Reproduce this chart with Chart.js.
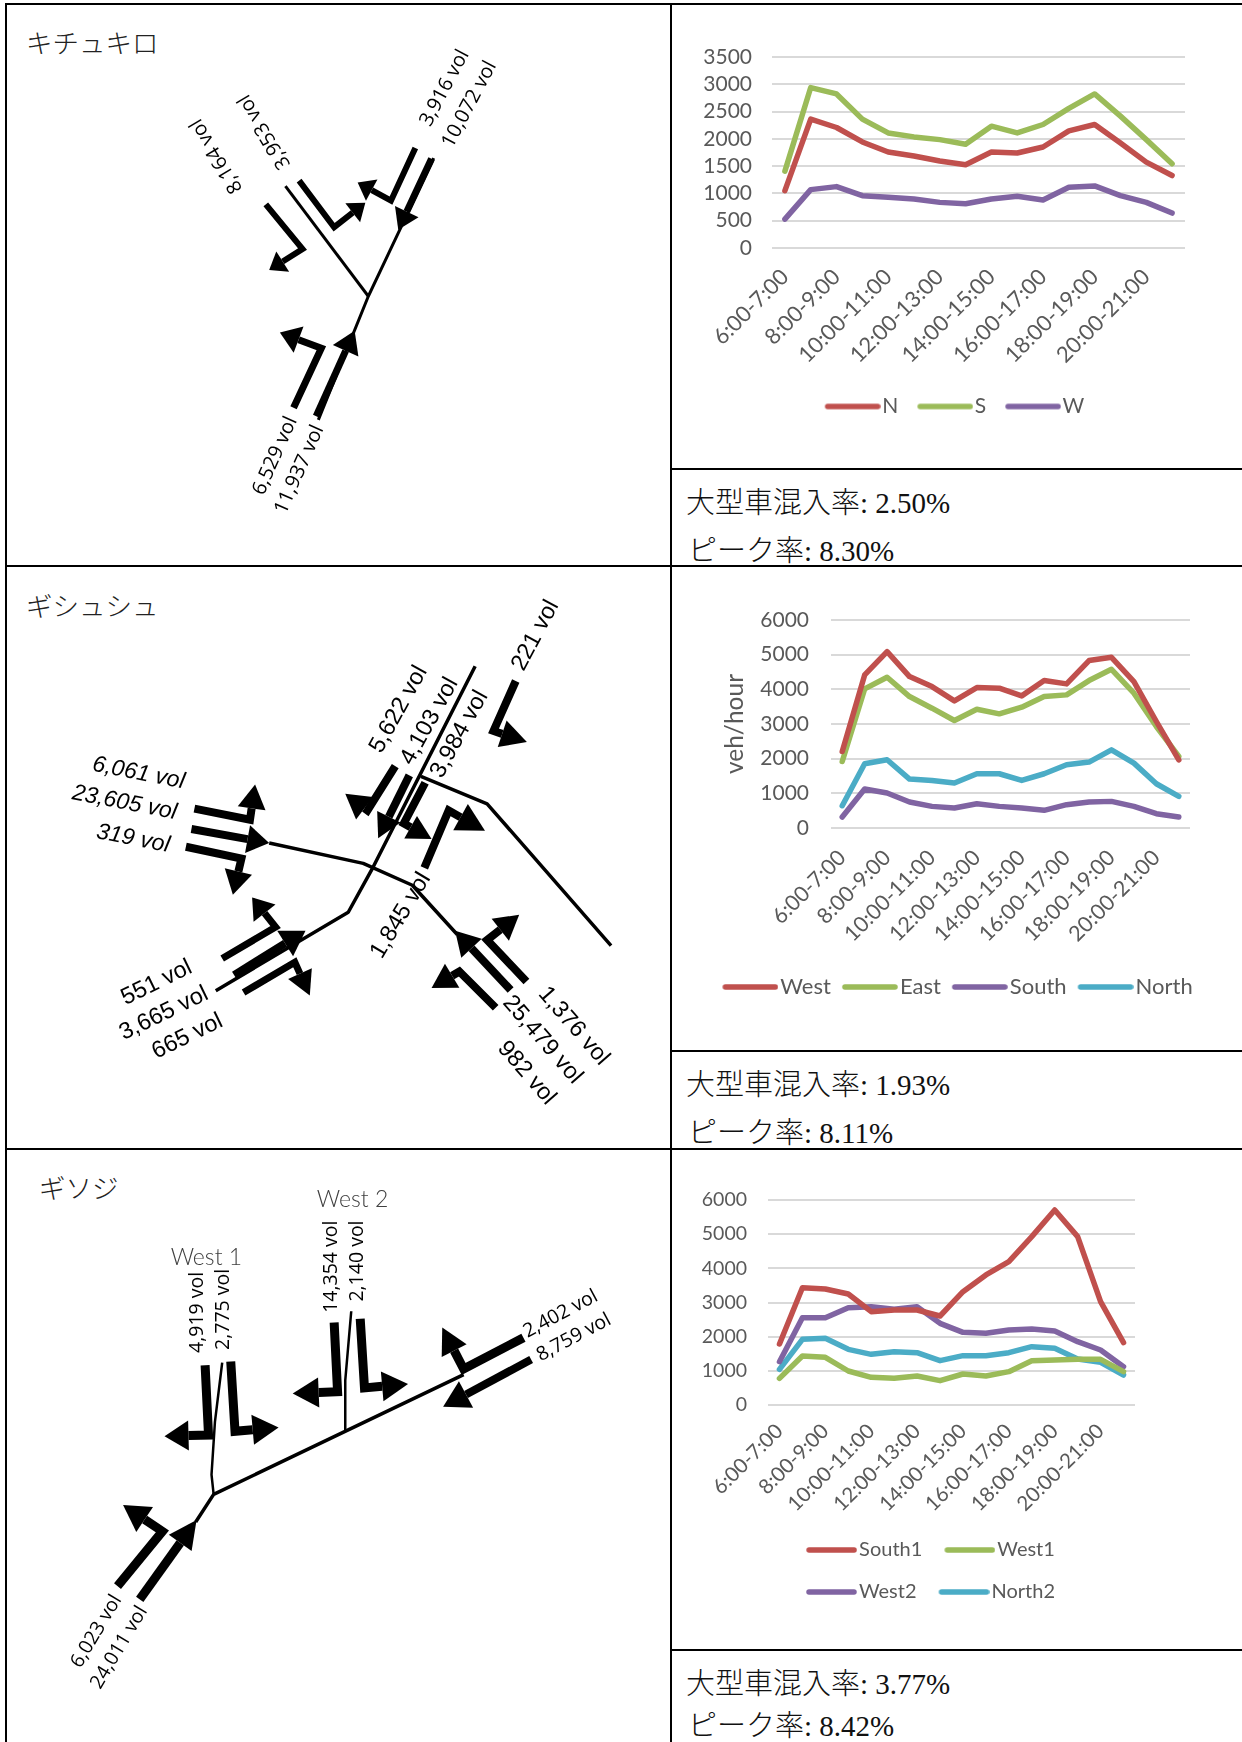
<!DOCTYPE html>
<html lang="ja">
<head>
<meta charset="utf-8">
<title>交差点交通量</title>
<script src="https://cdn.jsdelivr.net/npm/chart.js@4"></script>
<style>
  html, body { margin: 0; padding: 0; background: #fff; overflow: hidden; }
  #sheet { position: relative; width: 1242px; height: 1742px; overflow: hidden; }
  .rule { position: absolute; background: #000; }
  .chartBox { position: absolute; }
  .stat { position: absolute; left: 686px; font: 300 29px "Liberation Serif", "Noto Sans CJK JP", serif; color: #111; white-space: nowrap; line-height: 32px; }
  .title { position: absolute; font: 300 26.5px "Noto Sans CJK JP", sans-serif; color: #222; white-space: nowrap; line-height: 30px; }
  svg { position: absolute; left: 0; top: 0; }
</style>
</head>
<body>
<div id="sheet"></div>
<script>
// Hourly windows shared by all three count charts
const hourLabels = ["6:00-7:00","7:00-8:00","8:00-9:00","9:00-10:00","10:00-11:00","11:00-12:00","12:00-13:00","13:00-14:00","14:00-15:00","15:00-16:00","16:00-17:00","17:00-18:00","18:00-19:00","19:00-20:00","20:00-21:00","21:00-22:00"];

// キチュキロ
const kN = [1052,2362,2208,1943,1759,1685,1593,1525,1759,1740,1851,2146,2263,1925,1574,1328];
const kS = [1408,2940,2823,2362,2109,2036,1986,1900,2232,2109,2263,2558,2823,2417,1986,1544];
const kW = [529,1070,1125,959,929,898,836,812,898,947,879,1113,1138,959,836,640];

// ギシュシュ
const gWest = [2208,4416,5088,4368,4080,3667,4051,4032,3811,4253,4157,4829,4925,4224,3072,1968];
const gEast = [1920,4013,4349,3792,3456,3101,3427,3293,3485,3792,3840,4253,4579,3888,2928,2064];
const gSouth = [317,1123,1008,749,624,576,701,624,576,509,672,749,768,624,413,317];
const gNorth = [643,1853,1968,1411,1373,1296,1565,1565,1373,1565,1824,1901,2256,1872,1277,912];

// ギソジ
const sSouth1 = [1785,3434,3395,3249,2732,2780,2780,2605,3317,3805,4195,4927,5707,4927,3024,1824];
const sWest1 = [780,1434,1395,995,810,780,849,712,907,849,976,1298,1317,1337,1337,976];
const sWest2 = [1268,2556,2556,2849,2878,2800,2878,2390,2127,2098,2195,2224,2166,1854,1610,1122];
const sNorth2 = [1044,1922,1951,1629,1483,1561,1532,1298,1444,1444,1532,1707,1659,1346,1249,878];

// Truck share and peak rate shown under each chart
const truckShare = ["2.50%","1.93%","3.77%"];
const peakRate = ["8.30%","8.11%","8.42%"];
const siteNames = ["キチュキロ","ギシュシュ","ギソジ"];

const RED = "#c0504d", GREEN = "#9bbb59", PURPLE = "#8064a2", TEAL = "#4bacc6";
const sheet = document.getElementById("sheet");

function rule(l, t, w, h) {
  const d = document.createElement("div");
  d.className = "rule";
  d.style.cssText = `left:${l}px;top:${t}px;width:${w}px;height:${h}px`;
  sheet.appendChild(d);
}
// Table frame
rule(5, 3, 1237, 2);
rule(5, 3, 2, 1739);
rule(670, 3, 2, 1739);
rule(5, 565, 1237, 2);
rule(5, 1148, 1237, 2);
rule(670, 468, 572, 2);
rule(670, 1050, 572, 2);
rule(670, 1649, 572, 2);

function place(cls, text, l, t) {
  const d = document.createElement("div");
  d.className = cls;
  d.textContent = text;
  d.style.left = l + "px";
  d.style.top = t + "px";
  sheet.appendChild(d);
}
place("title", siteNames[0], 26, 27);
place("title", siteNames[1], 26, 590);
place("title", siteNames[2], 39, 1172);

[[487, 535], [1069, 1117], [1668, 1710]].forEach((ys, i) => {
  place("stat", "大型車混入率: " + truckShare[i], 686, ys[0]);
  place("stat", "ピーク率: " + peakRate[i], 688, ys[1]);
});

// Nudges a legend sideways from its default spot below the plot
const legendShift = {
  id: "legendShift",
  afterLayout(chart, args, opts) {
    if (opts.dx) { chart.legend.left += opts.dx; chart.legend.right += opts.dx; }
  }
};

// Legend key: a thick rounded line that reaches almost to its label
function keyImage(color, boxWidth, reach) {
  const c = document.createElement("canvas");
  c.width = boxWidth + 2 * reach;
  c.height = 8;
  const g = c.getContext("2d");
  g.strokeStyle = color;
  g.lineWidth = 5.5;
  g.lineCap = "round";
  g.beginPath();
  g.moveTo(reach + 3, 4);
  g.lineTo(c.width - 3, 4);
  g.stroke();
  return c;
}

function makeChart(cfg) {
  const box = document.createElement("div");
  box.className = "chartBox";
  box.style.cssText = `left:${cfg.left}px;top:${cfg.top}px;width:${cfg.width}px;height:${cfg.height}px`;
  const canvas = document.createElement("canvas");
  canvas.width = cfg.width;
  canvas.height = cfg.height;
  box.appendChild(canvas);
  sheet.appendChild(box);
  const plotBottomInBox = cfg.plotBottom - cfg.top;
  new Chart(canvas, {
    type: "line",
    plugins: [legendShift],
    data: {
      labels: hourLabels,
      datasets: cfg.series.map(s => ({
        label: s.name, data: s.values, borderColor: s.color, backgroundColor: s.color,
        borderWidth: 5.5, tension: 0, pointRadius: 0, fill: false,
        pointStyle: keyImage(s.color, cfg.swatch, cfg.reach),
        borderCapStyle: "round", borderJoinStyle: "round"
      }))
    },
    options: {
      responsive: false,
      animation: false,
      layout: { padding: { left: 0, top: cfg.plotTop - cfg.top, right: cfg.left + cfg.width - cfg.plotRight, bottom: 0 } },
      plugins: {
        tooltip: { enabled: false },
        legendShift: { dx: cfg.legendDx || 0 },
        legend: {
          position: "bottom",
          fullSize: cfg.legendFull !== false,
          labels: {
            usePointStyle: true, pointStyleWidth: cfg.swatch,
            font: { family: "Lato", size: cfg.legendFont },
            color: "#595959", padding: cfg.legendPad
          }
        }
      },
      scales: {
        x: {
          offset: true,
          grid: { display: false },
          border: { display: false },
          afterFit: s => { s.height = cfg.height - cfg.legendHeight - plotBottomInBox; },
          ticks: {
            autoSkip: false, maxRotation: 45, minRotation: 45, padding: cfg.xPad,
            color: "#595959", font: { family: "Lato", size: cfg.xFont },
            callback(v, i) { return i % 2 === 0 ? this.getLabelForValue(v) : ""; }
          }
        },
        y: {
          min: 0, max: cfg.max,
          afterFit: s => { s.width = cfg.plotLeft - cfg.left; },
          grid: { color: "#d9d9d9", lineWidth: 2, drawTicks: false },
          border: { display: false },
          title: cfg.yTitle ? { display: true, text: cfg.yTitle, color: "#595959", font: { family: "Lato", size: 24.5 }, padding: { top: cfg.yTitlePad, bottom: 0 } } : { display: false },
          ticks: { stepSize: cfg.step, autoSkip: false, callback: v => String(v), padding: cfg.yPad, color: "#595959", font: { family: "Lato", size: cfg.yFont } }
        }
      }
    }
  });
}

makeChart({
  left: 672, top: 5, width: 566, height: 422,
  plotLeft: 772, plotRight: 1185, plotTop: 57, plotBottom: 248,
  legendHeight: 50, legendPad: 19, legendFont: 21, swatch: 47, reach: 9, legendDx: 26,
  xFont: 22, yFont: 21, xPad: 8, yPad: 20, max: 3500, step: 500,
  series: [{ name: "N", values: kN, color: RED }, { name: "S", values: kS, color: GREEN }, { name: "W", values: kW, color: PURPLE }]
});
makeChart({
  left: 675, top: 570, width: 566, height: 438,
  plotLeft: 831, plotRight: 1190, plotTop: 620, plotBottom: 828,
  legendHeight: 43, legendPad: 11, legendFont: 22, swatch: 47, reach: 9, legendDx: 25,
  xFont: 21.5, yFont: 21, xPad: 9, yPad: 22, max: 6000, step: 1000,
  yTitle: "veh/hour", yTitlePad: 45,
  series: [{ name: "West", values: gWest, color: RED }, { name: "East", values: gEast, color: GREEN }, { name: "South", values: gSouth, color: PURPLE }, { name: "North", values: gNorth, color: TEAL }]
});
makeChart({
  left: 690, top: 1152, width: 476, height: 460,
  plotLeft: 768, plotRight: 1135, plotTop: 1200, plotBottom: 1405,
  legendHeight: 94, legendPad: 22, legendFont: 20, swatch: 43, reach: 8, legendFull: false, legendDx: -21,
  xFont: 20.5, yFont: 19.5, xPad: 6, yPad: 21, max: 6000, step: 1000,
  series: [{ name: "South1", values: sSouth1, color: RED }, { name: "West1", values: sWest1, color: GREEN }, { name: "West2", values: sWest2, color: PURPLE }, { name: "North2", values: sNorth2, color: TEAL }]
});

// Road schematics for the three sites, drawn as vector shapes
const NS = "http://www.w3.org/2000/svg";
const svg = document.createElementNS(NS, "svg");
svg.setAttribute("width", 1242);
svg.setAttribute("height", 1742);
sheet.appendChild(svg);

function el(name, attrs, text) {
  const e = document.createElementNS(NS, name);
  for (const k in attrs) e.setAttribute(k, attrs[k]);
  if (text) e.textContent = text;
  svg.appendChild(e);
  return e;
}
function road(pts, w) {
  el("polyline", { points: pts.map(p => p.join(",")).join(" "), fill: "none", stroke: "#000", "stroke-width": w, "stroke-linejoin": "round" });
}
// Polyline shaft ending in a solid triangular head whose tip is the last point
function arrow(pts, w, hl, hw) {
  const tip = pts[pts.length - 1], prev = pts[pts.length - 2];
  const dx = tip[0] - prev[0], dy = tip[1] - prev[1], len = Math.hypot(dx, dy);
  const ux = dx / len, uy = dy / len;
  const base = [tip[0] - ux * hl, tip[1] - uy * hl];
  const shaft = pts.slice(0, -1).concat([base]);
  el("polyline", { points: shaft.map(p => p.join(",")).join(" "), fill: "none", stroke: "#000", "stroke-width": w, "stroke-linejoin": "miter", "stroke-miterlimit": 6 });
  const a = [base[0] - uy * hw / 2, base[1] + ux * hw / 2], b = [base[0] + uy * hw / 2, base[1] - ux * hw / 2];
  el("polygon", { points: [tip, a, b].map(p => p.join(",")).join(" "), fill: "#000" });
}
function label(text, x, y, deg, font, extra) {
  el("text", Object.assign({ x, y, transform: `rotate(${deg} ${x} ${y})`, "text-anchor": "middle", "dominant-baseline": "central", style: font, fill: "#000" }, extra || {}), text);
}

// Site 1
const u1 = ([x, y]) => [x * 0.4273, y * 0.3635];
road([[745,1155],[862,815],[1015,435]].map(u1), 3);
road([[668,512],[862,815]].map(u1), 3);
arrow([[740,1145],[830,910]].map(u1), 7, 22, 28);
arrow([[687,1122],[752,958],[655,915]].map(u1), 7, 20, 28);
arrow([[1010,437],[932,632]].map(u1), 7, 20, 26);
arrow([[972,407],[915,552],[837,502]].map(u1), 6, 16, 24);
arrow([[700,497],[782,625],[855,558]].map(u1), 6, 16, 24);
arrow([[622,562],[708,685],[630,743]].map(u1), 6, 16, 24);
const labelFont1 = 'font: 20px "Open Sans", sans-serif;';
[["3,916 vol",1037,240,-62],["10,072 vol",1095,285,-62],["3,953 vol",615,365,-121],["8,164 vol",503,432,-121],["6,529 vol",640,1252,-66],["11,937 vol",697,1290,-66]]
  .forEach(([t, x, y, a]) => { const p = u1([x, y]); label(t, p[0], p[1], a, labelFont1); });

// Site 2
const u2 = ([x, y]) => [x * 0.4273, 570 + y * 0.37];
road([[505,1137],[815,925],[870,810],[1112,260]].map(u2), 3.5);
road([[630,738],[850,793],[965,852],[1070,985]].map(u2), 3.5);
road([[985,558],[1140,632],[1430,1015]].map(u2), 3.5);
arrow([[455,645],[585,675],[597,580]].map(u2), 8, 24, 28);
arrow([[448,700],[630,738]].map(u2), 8, 22, 28);
arrow([[435,748],[565,780],[545,878]].map(u2), 8, 24, 28);
arrow([[520,1050],[645,965],[590,885]].map(u2), 7, 20, 28);
arrow([[548,1095],[715,975]].map(u2), 8, 24, 30);
arrow([[570,1142],[690,1060],[725,1150]].map(u2), 7, 24, 26);
arrow([[1232,1112],[1140,1000],[1215,932]].map(u2), 8, 24, 28);
arrow([[1195,1135],[1065,975]].map(u2), 8, 24, 28);
arrow([[1160,1183],[1075,1085],[1010,1130]].map(u2), 8, 24, 28);
arrow([[925,530],[860,650],[808,605]].map(u2), 8, 24, 28);
arrow([[958,555],[885,725]].map(u2), 8, 24, 26);
arrow([[995,575],[945,685],[1010,727]].map(u2), 8, 24, 26);
arrow([[993,805],[1050,650],[1135,705]].map(u2), 8, 28, 30);
arrow([[1207,300],[1155,435],[1233,465]].map(u2), 8, 26, 28);
const labelFont2 = 'font: 23.5px "Liberation Sans", sans-serif;';
const labelFont2i = 'font: italic 23px "Liberation Sans", sans-serif;';
[["6,061 vol",325,545,11],["23,605 vol",292,625,11],["319 vol",312,722,11]]
  .forEach(([t, x, y, a]) => { const p = u2([x, y]); label(t, p[0], p[1], a, labelFont2i); });
[["551 vol",365,1112,-26],["3,665 vol",382,1195,-26],["665 vol",437,1257,-26],["1,376 vol",1345,1230,49],["25,479 vol",1272,1267,49],["982 vol",1235,1357,49],["1,845 vol",935,932,-59],["5,622 vol",930,375,-61],["4,103 vol",1002,407,-61],["3,984 vol",1072,442,-61],["221 vol",1250,175,-62]]
  .forEach(([t, x, y, a]) => { const p = u2([x, y]); label(t, p[0], p[1], a, labelFont2); });

// Site 3
const u3 = ([x, y]) => [x * 0.4273, 1150 + y * 0.3776];
road([[458,985],[500,912],[1085,595]].map(u3), 3.5);
road([[520,563],[503,720],[495,860],[500,912]].map(u3), 2.5);
road([[822,427],[808,610],[808,745]].map(u3), 2.5);
arrow([[480,570],[488,755],[385,758]].map(u3), 9, 24, 30);
arrow([[540,560],[550,745],[652,735]].map(u3), 9, 26, 30);
arrow([[782,457],[790,640],[685,645]].map(u3), 9, 26, 30);
arrow([[843,447],[853,630],[955,620]].map(u3), 9, 26, 30);
arrow([[1225,497],[1085,580],[1035,470]].map(u3), 9, 26, 28);
arrow([[1243,555],[1037,680]].map(u3), 8, 26, 30);
arrow([[275,1155],[380,1010],[288,940]].map(u3), 9, 26, 30);
arrow([[327,1190],[460,980]].map(u3), 9, 28, 28);
const labelFont3 = 'font: 19.5px "Open Sans", sans-serif;';
[["4,919 vol",458,430,-90],["2,775 vol",518,422,-90],["14,354 vol",770,309,-90],["2,140 vol",832,294,-90],["2,402 vol",1310,430,-28],["8,759 vol",1341,492,-28],["6,023 vol",222,1272,-59],["24,011 vol",275,1315,-59]]
  .forEach(([t, x, y, a]) => { const p = u3([x, y]); label(t, p[0], p[1], a, labelFont3); });
const roadNameFont = 'font: 300 23px "Lato", sans-serif;';
[["West 1",483,282],["West 2",825,128]].forEach(([t, x, y]) => { const p = u3([x, y]); label(t, p[0], p[1], 0, roadNameFont, { fill: "#404040" }); });
</script>
</body>
</html>
